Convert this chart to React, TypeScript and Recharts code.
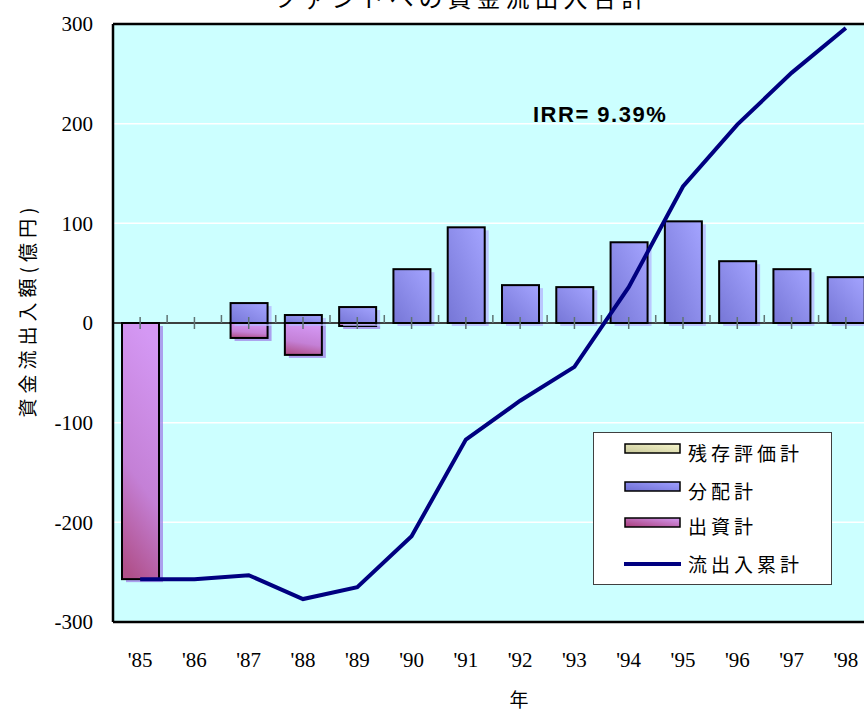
import React from 'react';
import { ComposedChart, Bar, Line, XAxis, YAxis, CartesianGrid, ReferenceLine } from 'recharts';

const years = ["'85", "'86", "'87", "'88", "'89", "'90", "'91", "'92", "'93", "'94", "'95", "'96", "'97", "'98"];
const zanson = [0, 0, 0, 0, 0, 0, 0, 0, 0, 0, 0, 0, 0, 0];
const haibun = [0, 0, 20, 8, 16, 54, 96, 38, 36, 81, 102, 62, 54, 46];
const shusshi = [-257, 0, -15, -32, -3, 0, 0, 0, 0, 0, 0, 0, 0, 0];
const ruikei = [-257, -257, -253, -277, -265, -214, -117, -78, -44, 36, 137, 199, 251, 296];
const tickBase = [0, 0, 0, 0, 0, 0, 0, 0, 0, 0, 0, 0, 0, 0];
const yTicks = [-300, -200, -100, 0, 100, 200, 300];

const title = 'ファンドへの資金流出入合計';
const yLabel = '資金流出入額(億円)';
const xLabel = '年';
const irrText = 'IRR= 9.39%';
const legendItems = [
  { name: '残存評価計', kind: 'zanson' },
  { name: '分配計', kind: 'haibun' },
  { name: '出資計', kind: 'shusshi' },
  { name: '流出入累計', kind: 'line' },
];

const data = years.map((y, i) => ({
  year: y,
  zanson: zanson[i],
  haibun: haibun[i],
  shusshi: shusshi[i],
  ruikei: ruikei[i],
  tickBase: tickBase[i],
}));

const JP = '"Noto Sans CJK JP", "Noto Sans", sans-serif';
const SERIF = '"Liberation Serif", "Times New Roman", serif';

const makeShape = (grad: string, shadow: string) => (props: any) => {
  const { x, y, width, height } = props;
  if (!height || Math.abs(height) < 0.5) return <g />;
  const y0 = Math.min(y, y + height);
  const h = Math.abs(height);
  return (
    <g>
      <rect x={x + 4} y={y0 + 3} width={width} height={h} fill={shadow} opacity={0.75} />
      <rect x={x} y={y0} width={width} height={h} fill={`url(#${grad})`} stroke="#000" strokeWidth={2} />
    </g>
  );
};

const TickDot = (props: any) => {
  const { cx, cy } = props;
  if (cx == null || cy == null) return <g />;
  return (
    <g>
      <line x1={cx} x2={cx} y1={cy - 6} y2={cy + 6} stroke="#5f7373" strokeWidth={1.5} />
      <line x1={cx + 27} x2={cx + 27} y1={cy - 8} y2={cy} stroke="#5f7373" strokeWidth={1.5} />
    </g>
  );
};

const LegendBox = () => (
  <div style={{ position: 'absolute', left: 593, top: 432, width: 239, height: 153, background: '#fff', border: '1px solid #404040', boxSizing: 'border-box' }}>
    <svg width={237} height={151} style={{ display: 'block' }}>
      <defs>
        <linearGradient id="lgZan" x1="1" y1="0" x2="0" y2="1">
          <stop offset="0" stopColor="#f6f6cc" />
          <stop offset="1" stopColor="#c8c89a" />
        </linearGradient>
        <linearGradient id="lgHai" x1="1" y1="0" x2="0" y2="1">
          <stop offset="0" stopColor="#a0a0ff" />
          <stop offset="1" stopColor="#6e6ed2" />
        </linearGradient>
        <linearGradient id="lgShu" x1="1" y1="0" x2="0" y2="1">
          <stop offset="0" stopColor="#d49af2" />
          <stop offset="1" stopColor="#a83c78" />
        </linearGradient>
      </defs>
      {legendItems.map((it, i) => {
        const cy = [16, 54, 90, 131][i];
        const ty = [22, 60, 95, 133][i];
        return (
          <g key={it.name}>
            {it.kind === 'line' ? (
              <line x1={30} x2={87} y1={cy} y2={cy} stroke="#000080" strokeWidth={4} />
            ) : (
              <rect x={31} y={cy - 5} width={55} height={9} stroke="#000" strokeWidth={1.5}
                fill={it.kind === 'zanson' ? 'url(#lgZan)' : it.kind === 'haibun' ? 'url(#lgHai)' : 'url(#lgShu)'} />
            )}
            <text x={94} y={ty + 6} fontFamily={JP} fontSize={19} letterSpacing={4} fill="#000">{it.name}</text>
          </g>
        );
      })}
    </svg>
  </div>
);

export default function App() {
  return (
    <div style={{ position: 'absolute', left: 0, top: 0, width: 864, height: 711, overflow: 'hidden', background: '#fff' }}>
      <ComposedChart
        width={880}
        height={711}
        data={data}
        stackOffset="sign"
        margin={{ top: 24, right: 7, left: 0, bottom: 0 }}
        barSize={37}
      >
        <defs>
          <linearGradient id="gHai" x1="1" y1="0" x2="0" y2="1">
            <stop offset="0" stopColor="#a4a4ff" />
            <stop offset="1" stopColor="#7676d6" />
          </linearGradient>
          <linearGradient id="gShu" x1="0.5" y1="0" x2="0.3" y2="1">
            <stop offset="0" stopColor="#d498f4" />
            <stop offset="0.6" stopColor="#c480d6" />
            <stop offset="1" stopColor="#b0508a" />
          </linearGradient>
          <linearGradient id="gZan" x1="1" y1="0" x2="0" y2="1">
            <stop offset="0" stopColor="#f6f6cc" />
            <stop offset="1" stopColor="#c8c89a" />
          </linearGradient>
        </defs>
        <CartesianGrid vertical={false} stroke="#ffffff" strokeWidth={1.5} fill="#CCFFFF" fillOpacity={1} />
        <XAxis
          dataKey="year"
          height={89}
          axisLine={{ stroke: '#000', strokeWidth: 2.5 }}
          tickLine={false}
          tickMargin={24}
          tick={{ fontFamily: SERIF, fontSize: 21, fill: '#000' }}
          interval={0}
        />
        <YAxis
          width={113}
          domain={[-300, 300]}
          ticks={yTicks}
          allowDataOverflow
          axisLine={{ stroke: '#000', strokeWidth: 2.5 }}
          tickLine={false}
          tickMargin={14}
          tick={{ fontFamily: SERIF, fontSize: 21, fill: '#000' }}
        />
        <ReferenceLine y={300} stroke="#000" strokeWidth={2.5} />
        <Bar dataKey="shusshi" stackId="a" isAnimationActive={false} shape={makeShape('gShu', '#a080e8')} />
        <Bar dataKey="haibun" stackId="a" isAnimationActive={false} shape={makeShape('gHai', '#b4b4ff')} />
        <Bar dataKey="zanson" stackId="a" isAnimationActive={false} shape={makeShape('gZan', '#e0e0b0')} />
        <ReferenceLine y={0} stroke="#000" strokeWidth={1.5} />
        <Line dataKey="tickBase" stroke="none" isAnimationActive={false} dot={<TickDot />} activeDot={false} legendType="none" />
        <Line dataKey="ruikei" type="linear" stroke="#000080" strokeWidth={4} dot={false} isAnimationActive={false} />
      </ComposedChart>
      <LegendBox />
      <svg width={864} height={711} style={{ position: 'absolute', left: 0, top: 0, pointerEvents: 'none' }}>
        <text x={462} y={7} textAnchor="middle" fontFamily={JP} fontSize={24} letterSpacing={5} fill="#000">{title}</text>
        <text x={533} y={122} fontFamily='"Liberation Sans", Arial, sans-serif' fontWeight="bold" fontSize={22} letterSpacing={1.5} fill="#000">{irrText}</text>
        <text x={519} y={707} textAnchor="middle" fontFamily={JP} fontSize={19} fill="#000">{xLabel}</text>
        <text transform="translate(35,310) rotate(-90)" textAnchor="middle" fontFamily={JP} fontSize={19} letterSpacing={5} fill="#000">{yLabel}</text>
      </svg>
    </div>
  );
}
